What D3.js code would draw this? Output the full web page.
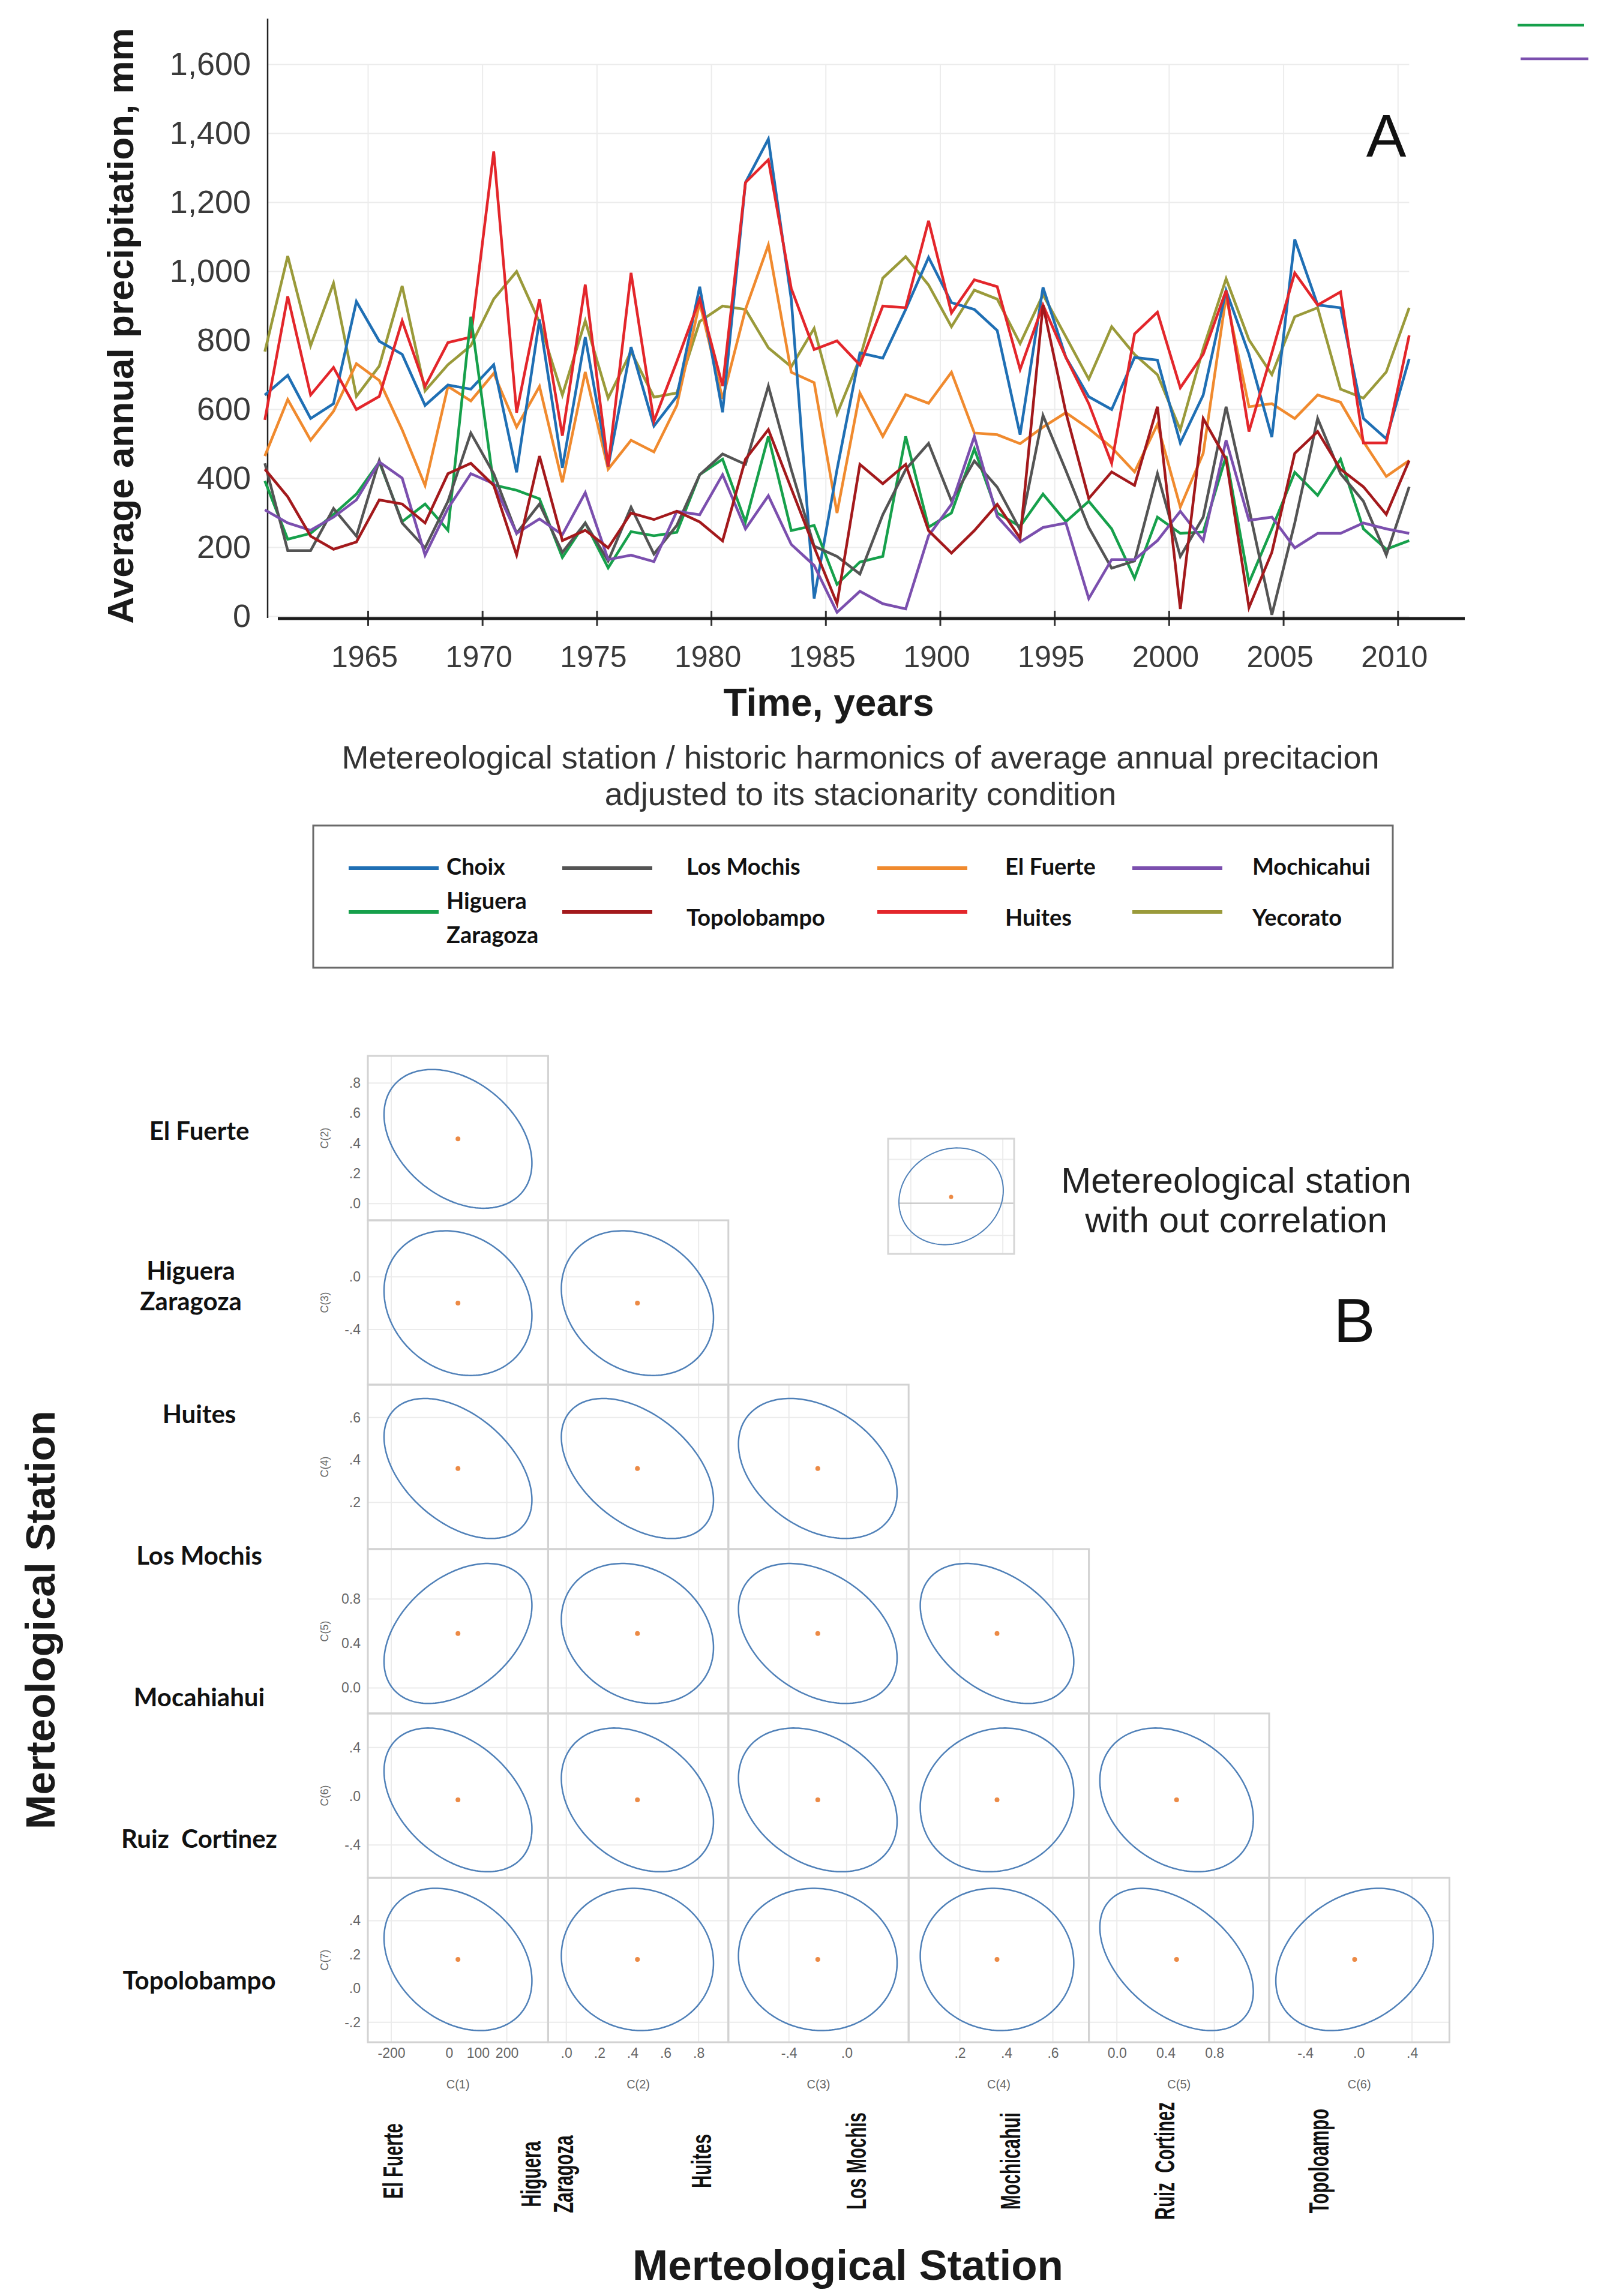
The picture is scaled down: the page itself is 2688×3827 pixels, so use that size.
<!DOCTYPE html>
<html>
<head>
<meta charset="utf-8">
<script src="https://cdn.jsdelivr.net/npm/d3@7"></script>
<style>
  body { margin: 0; background: #fff; }
  svg { display: block; }
  text { font-family: "Liberation Sans", Arial, sans-serif; }
  .station { font-family: Lato, "Noto Sans", sans-serif; font-weight: 700; fill: #111; white-space: pre; }
  .small { font-family: "Liberation Sans Narrow", "Liberation Sans", Arial, sans-serif; fill: #666; }
</style>
</head>
<body>
<div id="chart"></div>
<script>
// Panel A data: average annual precipitation (mm) per station
var years = [1960,1961,1962,1963,1964,1965,1966,1967,1968,1969,1970,1971,1972,1973,1974,1975,1976,1977,1978,1979,
             1980,1981,1982,1983,1984,1985,1986,1987,1988,1989,1990,1991,1992,1993,1994,1995,1996,1997,1998,1999,
             2000,2001,2002,2003,2004,2005,2006,2007,2008,2009,2010];

var choix       = [641,698,573,616,912,797,759,611,670,658,729,417,860,430,809,434,780,551,637,955,591,1257,1383,919,51,425,763,748,889,1040,909,889,828,526,953,750,636,599,750,742,502,641,944,759,519,1092,902,894,573,514,746];
var huites      = [569,927,641,721,599,637,856,666,793,809,1347,590,919,523,961,434,995,565,738,919,667,1257,1323,950,773,798,728,899,894,1146,879,975,955,715,902,750,616,443,818,881,662,759,944,535,763,995,902,940,502,502,814];
var yecorato    = [767,1044,784,965,637,725,957,653,729,784,919,999,852,641,856,632,767,635,647,854,899,889,778,723,834,586,748,980,1042,960,839,945,919,790,932,810,687,839,759,700,540,776,978,801,700,868,894,658,632,708,894];
var elFuerte    = [464,628,510,594,732,683,540,379,666,624,704,548,666,388,708,426,510,476,611,909,630,889,1076,707,677,299,647,521,642,617,707,531,526,500,548,590,544,489,418,556,316,472,927,607,616,573,641,620,506,405,451];
var higuera     = [392,223,240,295,354,447,274,325,249,868,380,365,340,170,270,140,245,233,243,410,455,273,521,248,263,92,157,173,521,258,299,485,299,260,354,274,333,253,110,287,240,244,464,97,253,417,350,455,253,194,219];
var losMochis   = [443,190,190,312,232,451,270,198,333,531,413,240,325,185,270,160,316,180,263,410,470,440,667,425,203,173,122,294,425,501,334,450,374,250,582,422,257,139,160,413,173,287,607,312,4,270,573,413,333,177,375];
var mochicahui  = [308,270,249,287,337,447,400,177,312,413,384,240,282,236,358,164,177,158,304,294,410,253,349,208,147,11,72,36,21,233,324,521,289,215,257,270,51,164,164,219,304,219,510,278,287,198,240,240,270,253,240];
var topolobampo = [426,346,232,194,215,337,325,270,413,443,379,177,464,219,249,198,299,280,304,273,218,455,541,370,200,36,440,384,440,248,183,248,324,226,902,590,341,418,379,607,21,573,455,25,185,472,535,426,375,295,451];

var yTicks = [0,200,400,600,800,1000,1200,1400,1600];
var xTickValues = [1965,1970,1975,1980,1985,1990,1995,2000,2005,2010];
var xTickLabels = ["1965","1970","1975","1980","1985","1900","1995","2000","2005","2010"];

// Panel B data: confidence ellipses of the harmonic coefficients
var varNames = ["C(1)","C(2)","C(3)","C(4)","C(5)","C(6)","C(7)"];
var varDomains = [[-281,343],[-0.11,0.98],[-0.82,0.43],[-0.02,0.755],[-0.23,1.25],[-0.67,0.68],[-0.318,0.653]];
var varTicks = [[-200,0,100,200],[0,0.2,0.4,0.6,0.8],[-0.4,0],[0.2,0.4,0.6],[0,0.4,0.8],[-0.4,0,0.4],[-0.2,0,0.2,0.4]];
var varTickLabels = [["-200","0","100","200"],[".0",".2",".4",".6",".8"],["-.4",".0"],[".2",".4",".6"],["0.0","0.4","0.8"],["-.4",".0",".4"],["-.2",".0",".2",".4"]];
var varMeans = [31, 0.43, -0.2, 0.36, 0.49, -0.03, 0.171];
var varHalf  = [256, 0.46, 0.55, 0.33, 0.63, 0.59, 0.42];
var corr = [
  [-0.35],
  [-0.17,-0.2],
  [-0.45,-0.45,-0.35],
  [0.4,-0.2,-0.35,-0.4],
  [-0.4,-0.3,-0.3,0.1,-0.27],
  [-0.3,-0.05,-0.05,-0.05,-0.45,0.3]
];
var rowStations = ["El Fuerte","Higuera\nZaragoza","Huites","Los Mochis","Mocahiahui","Ruiz  Cortinez","Topolobampo"];
var colStations = ["El Fuerte","Higuera\nZaragoza","Huites","Los Mochis","Mochicahui","Ruiz  Cortinez","Topoloampo"];

var insetMean = [0.5, 0.5], insetHalf = [0.414, 0.42], insetR = 0.12;
var insetGridX = [0.18, 0.91], insetGridY = [0.16, 0.82], insetZero = 0.44;

// Series table
var series = [
  { name: "Yecorato",          values: yecorato,    color: "#9a9a3a" },
  { name: "El Fuerte",         values: elFuerte,    color: "#f08a2e" },
  { name: "Choix",             values: choix,       color: "#1f6fb4" },
  { name: "Huites",            values: huites,      color: "#e3262b" },
  { name: "Higuera\nZaragoza", values: higuera,     color: "#16a04b" },
  { name: "Los Mochis",        values: losMochis,   color: "#545454" },
  { name: "Mochicahui",        values: mochicahui,  color: "#7b4fae" },
  { name: "Topolobampo",       values: topolobampo, color: "#a3191c" }
];
var byName = {};
series.forEach(function(s) { byName[s.name] = s; });
var legendCols = [["Choix","Higuera\nZaragoza"],["Los Mochis","Topolobampo"],["El Fuerte","Huites"],["Mochicahui","Yecorato"]];

var svg = d3.select("#chart").append("svg")
    .attr("width", 2688)
    .attr("height", 3827);
svg.append("rect").attr("width", 2688).attr("height", 3827).attr("fill", "#fff");

// ---------------------------------------------------------------------------
// Panel A
// ---------------------------------------------------------------------------
var a = svg.append("g");
var x = d3.scaleLinear().domain([1960, 2013]).range([422.3, 2443.7]);
var y = d3.scaleLinear().domain([0, 1600]).range([1027, 107]);
var plotLeft = 446, plotRight = x(2010.5);

// Gridlines
a.append("g")
    .attr("transform", "translate(" + plotLeft + ",0)")
    .call(d3.axisLeft(y).tickValues(yTicks).tickSize(-(plotRight - plotLeft)).tickFormat(""))
    .call(function(g) { g.select(".domain").remove(); })
    .selectAll("line").attr("stroke", "#ececec").attr("stroke-width", 2);

a.append("g")
    .attr("transform", "translate(0," + y(0) + ")")
    .call(d3.axisBottom(x).tickValues(xTickValues).tickSize(-(y(0) - y(1600))).tickFormat(""))
    .call(function(g) { g.select(".domain").remove(); })
    .selectAll("line").attr("stroke", "#ececec").attr("stroke-width", 2);

// Y axis labels
a.append("g")
    .attr("transform", "translate(" + plotLeft + ",0)")
    .call(d3.axisLeft(y).tickValues(yTicks).tickSize(0).tickPadding(28).tickFormat(d3.format(",")))
    .call(function(g) { g.select(".domain").remove(); })
    .selectAll("text")
      .attr("font-size", 54)
      .attr("fill", "#3a3a3a")
      .attr("font-family", "Liberation Sans, Arial, sans-serif");

a.append("line")
    .attr("x1", plotLeft).attr("x2", plotLeft)
    .attr("y1", 31).attr("y2", y(0) + 3)
    .attr("stroke", "#222").attr("stroke-width", 2.5);

// Series lines
var line = d3.line()
    .x(function(d, i) { return x(years[i] + 0.5); })
    .y(function(d) { return y(d); });

a.append("g").selectAll("path")
    .data(series)
  .enter().append("path")
    .attr("d", function(s) { return line(s.values); })
    .attr("fill", "none")
    .attr("stroke", function(s) { return s.color; })
    .attr("stroke-width", 4.5)
    .attr("stroke-linejoin", "miter");

// X axis
var xAxis = a.append("g")
    .attr("transform", "translate(0,1031)")
    .call(d3.axisBottom(x).tickValues(xTickValues).tickSize(12)
      .tickFormat(function(d, i) { return xTickLabels[i]; }));
xAxis.select(".domain").remove();
xAxis.selectAll("line").attr("y1", -13).attr("y2", 12).attr("stroke", "#333").attr("stroke-width", 3);
xAxis.selectAll("text")
    .attr("x", -6)
    .attr("y", 63).attr("dy", "0.35em")
    .attr("font-size", 50)
    .attr("fill", "#3a3a3a")
    .attr("font-family", "Liberation Sans, Arial, sans-serif");
a.append("line")
    .attr("x1", 463).attr("x2", 2441)
    .attr("y1", 1031).attr("y2", 1031)
    .attr("stroke", "#1a1a1a").attr("stroke-width", 5);

// Titles
a.append("text")
    .attr("transform", "translate(222,543) rotate(-90)")
    .attr("text-anchor", "middle")
    .attr("font-size", 62).attr("font-weight", 700).attr("fill", "#1a1a1a")
    .text("Average annual precipitation, mm");

a.append("text")
    .attr("x", 1381).attr("y", 1193)
    .attr("text-anchor", "middle")
    .attr("font-size", 64).attr("font-weight", 700).attr("fill", "#1a1a1a")
    .text("Time, years");

a.append("text")
    .attr("x", 2310).attr("y", 261)
    .attr("text-anchor", "middle")
    .attr("font-size", 100).attr("fill", "#111")
    .text("A");

// Stray legend fragment top right
a.selectAll("line.frag")
    .data([byName["Higuera\nZaragoza"], byName["Mochicahui"]])
  .enter().append("line")
    .attr("x1", function(d, i) { return 2529 + i * 5; })
    .attr("x2", function(d, i) { return 2640 + i * 7; })
    .attr("y1", function(d, i) { return 42 + i * 56; })
    .attr("y2", function(d, i) { return 42 + i * 56; })
    .attr("stroke", function(d) { return d.color; })
    .attr("stroke-width", 4.5);

// Subtitle
a.append("text")
    .attr("x", 1434).attr("y", 1281)
    .attr("text-anchor", "middle")
    .attr("font-size", 54).attr("fill", "#333")
    .text("Metereological station / historic harmonics of average annual precitacion");
a.append("text")
    .attr("x", 1434).attr("y", 1342)
    .attr("text-anchor", "middle")
    .attr("font-size", 54).attr("fill", "#333")
    .text("adjusted to its stacionarity condition");

// Legend
var lg = a.append("g");
lg.append("rect")
    .attr("x", 522).attr("y", 1376)
    .attr("width", 1799).attr("height", 237)
    .attr("fill", "#fff")
    .attr("stroke", "#6a6a6a").attr("stroke-width", 3);

var swatchX = [581, 937, 1462, 1887];
var labelX  = [744, 1144, 1675, 2087];
var rowY    = [1443, 1528];
legendCols.forEach(function(col, ci) {
  col.forEach(function(name, ri) {
    var s = byName[name];
    lg.append("line")
      .attr("x1", swatchX[ci]).attr("x2", swatchX[ci] + 150)
      .attr("y1", rowY[ri] + (ri ? -8 : 4)).attr("y2", rowY[ri] + (ri ? -8 : 4))
      .attr("stroke", s.color).attr("stroke-width", 6);
    var lines = name.split("\n");
    var t = lg.append("text")
      .attr("class", "station")
      .attr("font-size", 38)
      .attr("dominant-baseline", "central");
    lines.forEach(function(l, li) {
      t.append("tspan")
        .attr("x", labelX[ci])
        .attr("y", rowY[ri] + (li - (lines.length - 1) / 2) * 57)
        .text(l);
    });
  });
});

// ---------------------------------------------------------------------------
// Panel B
// ---------------------------------------------------------------------------
var b = svg.append("g");
var cellW = 300.4, cellH = 274, gx0 = 613, gy0 = 1760;
var nRows = corr.length;

function ellipsePath(xs, ys, mx, my, hx, hy, r) {
  var s = Math.sqrt(1 - r * r);
  var pts = d3.range(0, 2 * Math.PI, Math.PI / 90).map(function(t) {
    return [xs(mx + hx * Math.cos(t)), ys(my + hy * (r * Math.cos(t) + s * Math.sin(t)))];
  });
  return d3.line().curve(d3.curveLinearClosed)(pts);
}

corr.forEach(function(row, ri) {
  var yi = ri + 1;
  var ys = d3.scaleLinear().domain(varDomains[yi]).range([gy0 + (ri + 1) * cellH, gy0 + ri * cellH]);
  row.forEach(function(r, ci) {
    var xs = d3.scaleLinear().domain(varDomains[ci]).range([gx0 + ci * cellW, gx0 + (ci + 1) * cellW]);
    var cell = b.append("g");
    var xt = varTicks[ci], yt = varTicks[yi];

    cell.selectAll("line.gy")
        .data([yt[0], yt[yt.length - 1]])
      .enter().append("line")
        .attr("x1", xs.range()[0]).attr("x2", xs.range()[1])
        .attr("y1", ys).attr("y2", ys)
        .attr("stroke", "#ebebeb").attr("stroke-width", 2);
    cell.selectAll("line.gx")
        .data([xt[0], xt[xt.length - 1]])
      .enter().append("line")
        .attr("x1", xs).attr("x2", xs)
        .attr("y1", ys.range()[0]).attr("y2", ys.range()[1])
        .attr("stroke", "#ebebeb").attr("stroke-width", 2);

    cell.append("rect")
        .attr("x", xs.range()[0]).attr("y", ys.range()[1])
        .attr("width", cellW).attr("height", cellH)
        .attr("fill", "none")
        .attr("stroke", "#d2d2d2").attr("stroke-width", 3);

    cell.append("path")
        .attr("d", ellipsePath(xs, ys, varMeans[ci], varMeans[yi], varHalf[ci], varHalf[yi], r))
        .attr("fill", "none")
        .attr("stroke", "#4f80b8").attr("stroke-width", 2.5);

    cell.append("circle")
        .attr("cx", xs(varMeans[ci])).attr("cy", ys(varMeans[yi]))
        .attr("r", 4)
        .attr("fill", "#ec8a45");

    // bottom row: x axis
    if (ri === nRows - 1) {
      var xa = b.append("g")
          .attr("transform", "translate(0," + ys.range()[0] + ")")
          .call(d3.axisBottom(xs).tickValues(xt).tickSize(0).tickPadding(10)
            .tickFormat(function(d, i) { return varTickLabels[ci][i]; }));
      xa.select(".domain").remove();
      xa.selectAll("text").attr("class", "small").attr("font-size", 23).attr("fill", "#5a5a5a");
      b.append("text")
          .attr("class", "small")
          .attr("x", d3.mean(xs.range())).attr("y", 3481)
          .attr("text-anchor", "middle")
          .attr("font-size", 20)
          .text(varNames[ci]);
    }
  });

  // left axis of each row
  var ya = b.append("g")
      .attr("transform", "translate(" + gx0 + ",0)")
      .call(d3.axisLeft(ys).tickValues(varTicks[yi]).tickSize(0).tickPadding(12)
        .tickFormat(function(d, i) { return varTickLabels[yi][i]; }));
  ya.select(".domain").remove();
  ya.selectAll("text").attr("class", "small").attr("font-size", 23).attr("fill", "#5a5a5a");
  b.append("text")
      .attr("class", "small")
      .attr("transform", "translate(547," + d3.mean(ys.range()) + ") rotate(-90)")
      .attr("text-anchor", "middle")
      .attr("font-size", 18)
      .text(varNames[yi]);
});

// Row station labels
var rowPos = d3.scalePoint().domain(d3.range(rowStations.length)).range([1884, 3300]);
rowStations.forEach(function(name, i) {
  var lines = name.split("\n");
  var t = b.append("text")
      .attr("class", "station")
      .attr("font-size", 42)
      .attr("text-anchor", "middle")
      .attr("dominant-baseline", "central");
  lines.forEach(function(l, li) {
    t.append("tspan")
      .attr("x", 332 - 14 * (lines.length - 1))
      .attr("y", rowPos(i) + 22 * (lines.length - 1) + (li - (lines.length - 1) / 2) * 51)
      .text(l);
  });
});

// Column station labels (vertical, condensed)
var colPos = d3.scalePoint().domain(d3.range(colStations.length)).range([655, 2198]);
colStations.forEach(function(name, i) {
  var lines = name.split("\n");
  lines.forEach(function(l, li) {
    var t = b.append("text")
        .attr("transform", "translate(" + (colPos(i) + (li - (lines.length - 1) / 2) * 54) + "," + (3602 + 22 * (lines.length - 1)) + ") rotate(-90)")
        .attr("text-anchor", "middle")
        .attr("dominant-baseline", "central")
        .attr("font-family", "DejaVu Sans, sans-serif")
        .attr("font-weight", 700)
        .attr("font-size", 46)
        .attr("fill", "#111")
        .style("white-space", "pre")
        .text(l);
    var len = t.node().getComputedTextLength();
    t.attr("textLength", len * 0.64).attr("lengthAdjust", "spacingAndGlyphs");
  });
});

// Axis titles
b.append("text")
    .attr("transform", "translate(91,2700) rotate(-90)")
    .attr("text-anchor", "middle")
    .attr("font-size", 69).attr("font-weight", 700).attr("fill", "#1a1a1a")
    .text("Merteological Station");
b.append("text")
    .attr("x", 1413).attr("y", 3800)
    .attr("text-anchor", "middle")
    .attr("font-size", 71).attr("font-weight", 700).attr("fill", "#1a1a1a")
    .text("Merteological Station");

b.append("text")
    .attr("x", 2257).attr("y", 2237)
    .attr("text-anchor", "middle")
    .attr("font-size", 104).attr("fill", "#111")
    .text("B");

// Inset: station without correlation
var ix = d3.scaleLinear().domain([0, 1]).range([1480, 1690]);
var iy = d3.scaleLinear().domain([0, 1]).range([2090, 1898]);
var inset = b.append("g");
inset.selectAll("line.ix").data(insetGridX).enter().append("line")
    .attr("x1", ix).attr("x2", ix).attr("y1", iy(0)).attr("y2", iy(1))
    .attr("stroke", "#ececec").attr("stroke-width", 2);
inset.selectAll("line.iy").data(insetGridY).enter().append("line")
    .attr("x1", ix(0)).attr("x2", ix(1)).attr("y1", iy).attr("y2", iy)
    .attr("stroke", "#ececec").attr("stroke-width", 2);
inset.append("line")
    .attr("x1", ix(insetMean[0] - insetHalf[0])).attr("x2", ix(1))
    .attr("y1", iy(insetZero)).attr("y2", iy(insetZero))
    .attr("stroke", "#bdbdbd").attr("stroke-width", 2);
inset.append("rect")
    .attr("x", ix(0)).attr("y", iy(1))
    .attr("width", ix(1) - ix(0)).attr("height", iy(0) - iy(1))
    .attr("fill", "none").attr("stroke", "#d6d6d6").attr("stroke-width", 3);
inset.append("path")
    .attr("d", ellipsePath(ix, iy, insetMean[0], insetMean[1], insetHalf[0], insetHalf[1], insetR))
    .attr("fill", "none").attr("stroke", "#4f80b8").attr("stroke-width", 2);
inset.append("circle")
    .attr("cx", ix(insetMean[0])).attr("cy", iy(insetMean[1] - 0.005))
    .attr("r", 3.5).attr("fill", "#ec8a45");

b.append("text")
    .attr("x", 2060).attr("y", 1988)
    .attr("text-anchor", "middle")
    .attr("font-size", 60).attr("fill", "#222")
    .text("Metereological station");
b.append("text")
    .attr("x", 2060).attr("y", 2054)
    .attr("text-anchor", "middle")
    .attr("font-size", 60).attr("fill", "#222")
    .text("with out correlation");
</script>
</body>
</html>
